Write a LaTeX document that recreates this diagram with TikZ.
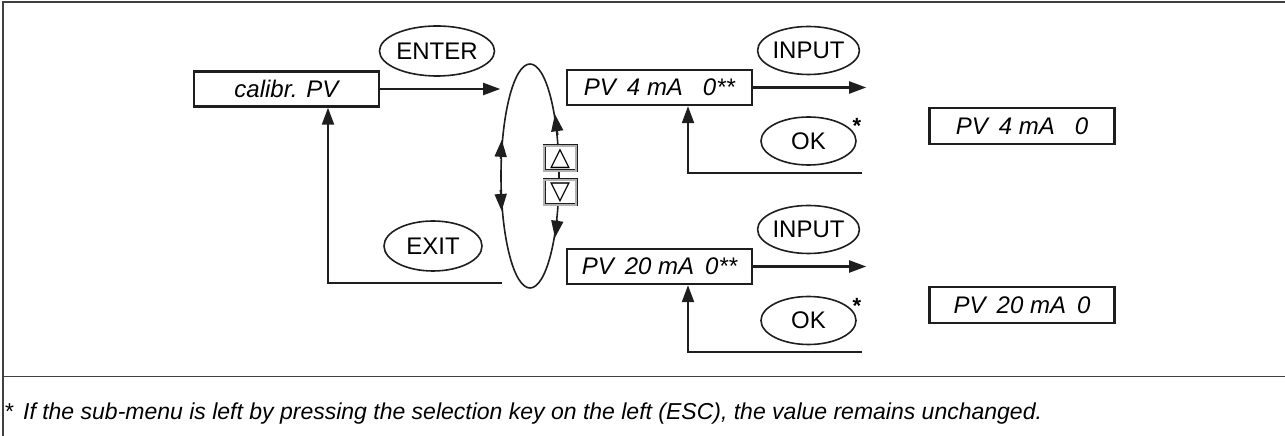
\documentclass[tikz,border=0pt]{standalone}
\usepackage{fontspec}
\setmainfont{Liberation Sans}
\newfontfamily\symfont{DejaVu Sans}
\usepackage{tikz}
\usetikzlibrary{arrows.meta,positioning,shapes.geometric,calc}
\usepackage{xcolor}
\definecolor{InkBlack}{HTML}{1E1E1E}
\definecolor{FrameGray}{HTML}{404040}

\begin{document}
\begin{tikzpicture}[
    x=1pt,y=1pt,
    box/.style={draw=InkBlack,line width=2.4pt,minimum width=185pt,minimum height=35pt,
      inner sep=0pt,font=\fontsize{24}{26}\selectfont\itshape},
    keyoval/.style={draw=InkBlack,ellipse,line width=1.6pt,inner sep=0pt,
      minimum width=95pt,minimum height=48pt,font=\fontsize{24}{26}\selectfont},
    arrowkey/.style={draw=InkBlack,line width=0.9pt,double=gray!60,double distance=1.2pt,
      fill=white,minimum width=32pt,minimum height=25pt,inner sep=0pt,
      font=\symfont\fontsize{26}{26}\selectfont},
    arr/.style={-{Triangle[length=17pt,width=12pt]},line width=2.2pt,draw=InkBlack},
    looptip/.style={-{Triangle[length=17pt,width=12pt]},line width=1.6pt,draw=InkBlack}
  ]
    \useasboundingbox (0,0) rectangle (1285,436);
    % frame and footnote line
    \draw[FrameGray,line width=1.5pt] (3,0) -- (3,434) -- (1285,434);
    \draw[FrameGray,line width=1.5pt] (3,59.5) -- (1285,59.5);

    % menu entry and scroll loop
    \node[box,minimum width=185pt] (calib) at (286.5,347) {calibr. PV};
    \node[keyoval,minimum width=100pt,minimum height=50pt] (enter) at (437,385) {ENTER};
    \node[keyoval,minimum width=98pt,minimum height=50pt] (exit) at (433,190) {EXIT};
    \node[draw=InkBlack,ellipse,line width=1.6pt,inner sep=0pt,
      minimum width=58pt,minimum height=224pt] (loop) at (530,260) {};
    \node[arrowkey] (upkey) at (560,277.5) {△};
    \node[arrowkey] (downkey) at (560,243.5) {▽};

    % sub-menu entries
    \node[box] (pv4) at (659.5,348.5) {PV\hspace{11pt}4 mA\hspace{20pt}0**};
    \node[box] (pv20) at (659.5,169.5) {PV\hspace{11pt}20 mA\hspace{11pt}0**};
    \node[keyoval] (input4) at (808.5,385.5) {INPUT};
    \node[keyoval] (ok4) at (808.5,295) {OK};
    \node[keyoval] (input20) at (808.5,206.5) {INPUT};
    \node[keyoval] (ok20) at (808.5,115.5) {OK};
    \node[anchor=base,inner sep=0pt,font=\fontsize{22}{24}\selectfont\bfseries] (star4)
      at ($(ok4.center)+(48.5,7)$) {*};
    \node[anchor=base,inner sep=0pt,font=\fontsize{22}{24}\selectfont\bfseries] (star20)
      at ($(ok20.center)+(48.5,7)$) {*};

    % stored values
    \node[box,minimum height=36pt] (res4) at (1022,310) {PV\hspace{11pt}4 mA\hspace{20pt}0};
    \node[box,minimum height=36pt] (res20) at (1022,131) {PV\hspace{11pt}20 mA\hspace{11pt}0};

    % free ends
    \coordinate (out4) at ($(pv4.east)+(113,0)$);
    \coordinate (out20) at ($(pv20.east)+(113,0)$);
    \coordinate (back4) at (862,263);
    \coordinate (back20) at (862,84);
    \coordinate (exitend) at (502,153);

    % connectors
    \draw[arr] (calib.east) -- (calib.east -| loop.west);
    \draw[arr] (exitend) -| ($(calib.south)+(41.5,0)$);
    \draw[arr] (pv4.east) -- (out4);
    \draw[arr] (pv20.east) -- (out20);
    \draw[arr] (back4) -| ($(pv4.south)+(28.5,0)$);
    \draw[arr] (back20) -| ($(pv20.south)+(28.5,0)$);
    \draw[looptip] (loop.150) -- (loop.128);
    \draw[looptip] (loop.205) -- (loop.231);
    \draw[looptip] (loop.56) -- (loop.68);
    \draw[looptip] (loop.302) -- (loop.292);

    % footnote
    \node[anchor=base west,inner sep=0pt,font=\fontsize{23}{25}\selectfont\itshape] (note)
      at (4,16) {*\hspace{10pt}If the sub-menu is left by pressing the selection key on the left (ESC), the value remains unchanged.};
\end{tikzpicture}
\end{document}
